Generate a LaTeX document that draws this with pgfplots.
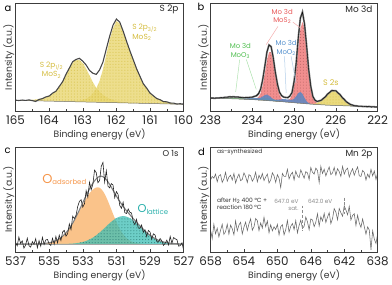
\documentclass[border=0pt]{standalone}
\usepackage{fontspec}
\setmainfont{Poppins}
\usepackage{pgfplots}
\usepackage{pgfplotstable}
\pgfplotsset{compat=1.18}
\usepgfplotslibrary{fillbetween}
\usetikzlibrary{patterns}

\definecolor{fa}{RGB}{232,214,112}
\definecolor{ta}{RGB}{212,188,62}
\definecolor{fr}{RGB}{240,130,130}
\definecolor{tr}{RGB}{232,88,88}
\definecolor{fb}{RGB}{90,135,195}
\definecolor{tb}{RGB}{85,145,205}
\definecolor{fg}{RGB}{120,200,110}
\definecolor{tg}{RGB}{80,190,80}
\definecolor{fo}{RGB}{250,188,125}
\definecolor{to}{RGB}{245,150,75}
\definecolor{ft}{RGB}{60,190,180}
\definecolor{tt}{RGB}{40,175,170}
\definecolor{frm}{RGB}{60,60,60}

\pgfplotsset{
  xps/.style={
    scale only axis, x dir=reverse, ytick=\empty, xtick pos=left,
    tick align=inside, major tick length=3bp, minor tick length=1.8bp,
    minor x tick num=1, axis on top,
    axis line style={draw=frm, line width=0.6bp},
    tick style={draw=frm, line width=0.5bp},
    tick label style={font=\fontsize{12}{12}\selectfont, text=black!85},
    xticklabel style={yshift=-1bp},
    /pgf/number format/assume math mode=true,
    /pgf/number format/1000 sep={},
    xlabel={Binding energy (eV)}, ylabel={Intensity (a.u.)},
    label style={font=\fontsize{9.3}{9.3}\selectfont, text=black!80},
    x label style={at={(axis description cs:0.5,-0.22)}, anchor=center},
    y label style={at={(axis description cs:-0.04,0.5)}, anchor=center},
  }
}

\pgfplotstableread{
E base B S env
160.0 6.70 6.70 6.70 6.9
160.1 6.78 7.03 6.78 7.3
160.2 6.86 7.26 6.86 7.0
160.3 6.94 7.60 6.94 7.9
160.4 7.02 8.10 7.02 8.0
160.5 7.10 8.76 7.10 9.2
160.6 7.18 9.67 7.18 9.4
160.7 7.26 11.0 7.26 11.3
160.8 7.34 12.7 7.34 12.5
160.9 7.42 14.9 7.42 15.3
161.0 7.50 18.3 7.50 18.0
161.1 7.58 22.5 7.58 23.0
161.2 7.66 27.6 7.66 27.4
161.3 7.74 34.3 7.74 34.9
161.4 7.82 42.7 7.82 42.5
161.5 7.90 51.1 7.90 51.6
161.6 7.98 60.3 8.28 60.6
161.7 8.06 69.5 8.56 70.2
161.8 8.14 79.5 8.99 80.3
161.9 8.22 87.9 9.52 89.3
162.0 8.30 90.3 10.2 92.4
162.1 8.38 83.1 11.1 86.3
162.2 8.46 71.6 12.3 75.2
162.3 8.54 56.6 14.0 62.4
162.4 8.62 41.8 16.3 49.2
162.5 8.70 30.3 19.3 41.3
162.6 8.78 22.5 23.3 36.8
162.7 8.86 17.6 28.9 37.9
162.8 8.94 14.3 35.7 40.8
162.9 9.02 12.3 42.6 46.2
163.0 9.10 11.2 48.2 50.1
163.1 9.18 10.5 51.3 52.9
163.2 9.26 10.1 51.4 51.8
163.3 9.34 9.84 48.4 49.6
163.4 9.42 9.7 43.0 43.1
163.5 9.50 9.6 36.3 36.8
163.6 9.58 9.58 29.6 29.4
163.7 9.66 9.66 24.2 24.6
163.8 9.74 9.74 20.3 19.8
163.9 9.82 9.82 17.5 17.9
164.0 9.90 9.90 15.4 15.0
164.1 9.98 9.98 13.8 14.1
164.2 10.06 10.06 12.8 12.4
164.3 10.14 10.14 12.0 11.6
164.4 10.22 10.22 11.5 9.6
164.5 10.30 10.30 11.15 10.4
164.6 10.38 10.38 10.9 11.2
164.7 10.46 10.46 10.76 10.6
164.8 10.54 10.54 10.54 11.0
164.9 10.62 10.62 10.62 10.5
165.0 10.70 10.70 10.70 10.9
}\tA

\pgfplotstableread{
E base red blue green yel env
222.0 4.0 4.0 4.0 4.0 4.0 4.1
222.2 4.1 4.1 4.1 4.1 4.1 4.0
222.4 4.2 4.2 4.2 4.2 4.2 4.3
222.6 4.2 4.2 4.2 4.2 4.2 4.1
222.8 4.3 4.3 4.3 4.3 4.3 4.5
223.0 4.4 4.4 4.4 4.4 4.4 4.3
223.2 4.5 4.5 4.5 4.5 4.5 4.6
223.4 4.6 4.6 4.6 4.6 4.6 4.5
223.6 4.6 4.6 4.6 4.6 4.6 4.8
223.8 4.7 4.7 4.7 4.7 4.8 4.7
224.0 4.8 4.8 4.8 4.8 5.0 5.1
224.2 4.9 4.9 4.9 4.9 5.3 5.2
224.4 4.9 4.9 4.9 4.9 5.8 5.9
224.6 5.0 5.0 5.0 5.0 6.6 6.5
224.8 5.1 5.1 5.1 5.1 7.7 7.9
225.0 5.2 5.2 5.2 5.2 9.4 9.3
225.2 5.2 5.2 5.2 5.2 11.4 11.6
225.4 5.3 5.3 5.3 5.3 13.8 13.6
225.6 5.4 5.4 5.4 5.4 16.3 16.5
225.8 5.4 5.4 5.4 5.4 18.4 18.2
226.0 5.5 5.5 5.5 5.5 20.0 20.3
226.2 5.6 5.6 5.6 5.6 20.6 20.4
226.4 5.7 5.7 5.7 5.7 20.2 20.5
226.6 5.8 5.8 5.8 5.8 18.8 18.6
226.8 5.9 5.9 5.9 5.9 16.8 17.0
227.0 6.0 6.0 6.0 6.0 14.5 14.3
227.2 6.1 6.35 6.1 6.1 12.3 12.6
227.4 6.2 6.7 6.2 6.2 10.4 10.8
227.6 6.4 7.3 6.4 6.4 9.0 10.1
227.8 6.5 8.2 6.5 6.5 8.05 9.6
228.0 6.6 10.0 6.6 6.6 7.4 10.9
228.2 6.8 14.2 6.8 6.8 7.2 14.5
228.4 6.9 24.1 7.1 6.9 7.1 24.6
228.6 7.1 40.7 7.9 7.1 7.2 41.4
228.8 7.2 62.5 9.75 7.2 7.2 65.3
229.0 7.4 81.7 13.2 7.4 7.4 87.3
229.2 7.6 89.6 17.15 7.6 7.6 99.4
229.4 7.8 82.1 19.2 7.8 7.8 93.3
229.6 7.9 63.2 17.9 7.9 7.9 73.5
229.8 8.1 41.7 14.8 8.1 8.1 48.2
230.0 8.3 25.5 12.3 8.3 8.3 29.8
230.2 8.5 16.0 11.2 8.5 8.5 18.5
230.4 8.7 12.3 11.3 8.7 8.7 15.1
230.6 8.8 10.9 11.5 8.8 8.8 13.4
230.8 9.0 10.65 11.8 9.0 9.0 13.6
231.0 9.2 11.2 11.9 9.4 9.2 14.0
231.2 9.4 12.65 11.8 9.7 9.4 15.5
231.4 9.5 16.5 11.4 10.1 9.5 18.9
231.6 9.7 24.7 11.3 10.6 9.7 27.4
231.8 9.8 36.8 11.2 11.1 9.8 39.3
232.0 10.0 50.0 12.0 11.7 10.0 53.9
232.2 10.2 59.0 13.6 12.3 10.2 64.7
232.4 10.3 59.1 15.4 12.7 10.3 66.4
232.6 10.5 50.5 16.5 13.0 10.5 59.2
232.8 10.6 37.6 16.0 13.0 10.6 45.2
233.0 10.8 25.8 14.6 12.9 10.8 31.9
233.2 10.9 17.9 13.4 12.6 10.9 22.0
233.4 11.0 14.0 12.9 12.3 11.0 17.4
233.6 11.2 12.7 13.0 12.15 11.2 15.3
233.8 11.3 12.05 13.1 12.0 11.3 14.7
234.0 11.4 11.8 13.1 11.9 11.4 13.9
234.2 11.5 11.7 13.0 11.95 11.5 13.8
234.4 11.6 11.7 12.8 12.1 11.6 13.4
234.6 11.7 11.7 12.6 12.4 11.7 13.5
234.8 11.8 11.8 12.45 12.7 11.8 13.3
235.0 11.9 11.9 12.3 13.1 11.9 13.6
235.2 12.0 12.0 12.2 13.5 12.0 13.7
235.4 12.1 12.1 12.2 13.9 12.1 14.1
235.6 12.1 12.1 12.2 14.0 12.1 14.0
235.8 12.2 12.2 12.2 14.2 12.2 14.3
236.0 12.3 12.3 12.3 14.2 12.3 14.1
236.2 12.4 12.4 12.4 14.2 12.4 14.3
236.4 12.4 12.4 12.4 13.9 12.4 13.8
236.6 12.5 12.5 12.5 13.7 12.5 13.8
236.8 12.5 12.5 12.5 13.4 12.5 13.3
237.0 12.6 12.6 12.6 13.25 12.6 13.4
237.2 12.7 12.7 12.7 13.1 12.7 13.0
237.4 12.7 12.7 12.7 13.0 12.7 13.1
237.6 12.8 12.8 12.8 12.96 12.8 12.8
237.8 12.8 12.8 12.8 12.9 12.8 13.0
238.0 12.9 12.9 12.9 12.95 12.9 12.9
}\tB

\pgfplotstableread{
E base O T env dat
527.0 8.3 8.3 8.4 8.4 2.0
527.1 8.3 8.3 8.4 8.4 9.5
527.2 8.3 8.3 8.45 8.45 6.8
527.3 8.3 8.3 8.5 8.5 6.1
527.4 8.3 8.3 8.57 8.57 12.7
527.5 8.3 8.3 8.66 8.66 13.5
527.6 8.3 8.3 8.77 8.77 14.8
527.7 8.3 8.3 8.92 8.92 9.0
527.8 8.3 8.3 9.1 9.1 15.9
527.9 8.3 8.3 9.33 9.33 7.4
528.0 8.3 8.3 9.6 9.6 12.3
528.1 8.3 8.3 9.95 9.95 9.0
528.2 8.3 8.3 10.36 10.36 6.9
528.3 8.3 8.3 10.84 10.84 11.5
528.4 8.3 8.3 11.41 11.41 13.8
528.5 8.3 8.3 12.08 12.08 10.2
528.6 8.3 8.3 12.86 12.86 10.9
528.7 8.3 8.3 13.76 13.76 17.3
528.8 8.3 8.3 14.74 14.74 18.5
528.9 8.3 8.3 15.86 15.86 13.1
529.0 8.3 8.3 17.06 17.06 20.4
529.1 8.3 8.3 18.38 18.38 21.9
529.2 8.3 8.3 19.8 19.8 15.8
529.3 8.3 8.43 21.3 21.43 22.5
529.4 8.3 8.49 22.86 23.05 20.1
529.5 8.3 8.59 24.48 24.77 27.4
529.6 8.3 8.73 26.08 26.51 24.0
529.7 8.3 8.93 27.7 28.33 24.4
529.8 8.3 9.21 29.24 30.15 33.0
529.9 8.3 9.6 30.73 32.03 27.8
530.0 8.3 10.12 32.07 33.89 30.6
530.1 8.3 10.8 33.3 35.8 39.4
530.2 8.3 11.7 34.34 37.74 40.2
530.3 8.3 12.84 35.18 39.72 43.5
530.4 8.3 14.26 35.8 41.76 38.9
530.5 8.3 16.01 36.17 43.88 39.8
530.6 8.3 18.13 36.3 46.13 50.3
530.7 8.3 20.63 36.17 48.5 44.2
530.8 8.3 23.52 35.8 51.02 47.0
530.9 8.3 26.8 35.18 53.68 58.2
531.0 8.3 30.45 34.34 56.49 61.0
531.1 8.3 34.4 33.3 59.4 54.8
531.2 8.3 38.57 32.07 62.34 67.5
531.3 8.3 42.87 30.73 65.3 69.0
531.4 8.3 47.17 29.24 68.11 64.8
531.5 8.3 51.32 27.7 70.72 66.4
531.6 8.3 55.19 26.08 72.97 82.0
531.7 8.3 58.6 24.48 74.78 70.5
531.8 8.3 61.42 22.86 75.98 90.3
531.9 8.3 63.53 21.3 76.53 86.4
532.0 8.3 64.84 19.8 76.34 72.1
532.1 8.3 65.3 18.38 75.38 69.9
532.2 8.3 65.04 17.06 73.8 80.1
532.3 8.3 64.27 15.86 71.83 82.6
532.4 8.3 63.02 14.74 69.46 68.3
532.5 8.3 61.3 13.76 66.76 62.8
532.6 8.3 59.2 12.86 63.76 70.4
532.7 8.3 56.7 12.08 60.48 55.3
532.8 8.3 53.96 11.41 57.07 61.9
532.9 8.3 50.94 10.84 53.48 48.6
533.0 8.3 47.8 10.36 49.86 45.3
533.1 8.3 44.5 9.95 46.15 52.8
533.2 8.3 41.25 9.6 42.55 51.2
533.3 8.3 37.94 9.33 38.97 46.0
533.4 8.3 34.8 9.1 35.6 37.2
533.5 8.3 31.73 8.92 32.35 33.9
533.6 8.3 28.82 8.77 29.29 36.2
533.7 8.3 26.14 8.66 26.5 22.8
533.8 8.3 23.69 8.57 23.96 28.5
533.9 8.3 21.41 8.5 21.61 18.7
534.0 8.3 19.42 8.45 19.57 16.2
534.1 8.3 17.59 8.41 17.7 22.0
534.2 8.3 16.0 8.38 16.08 20.3
534.3 8.3 14.63 8.36 14.69 11.8
534.4 8.3 13.48 8.34 13.52 17.2
534.5 8.3 12.48 8.3 12.5 9.5
534.6 8.3 11.65 8.3 11.65 15.9
534.7 8.3 10.96 8.3 10.96 8.1
534.8 8.3 10.39 8.3 10.39 14.0
534.9 8.3 9.93 8.3 9.93 6.9
535.0 8.3 9.56 8.3 9.56 8.4
535.1 8.3 9.26 8.3 9.26 12.9
535.2 8.3 9.03 8.3 9.03 12.4
535.3 8.3 8.85 8.3 8.85 7.8
535.4 8.3 8.71 8.3 8.71 15.0
535.5 8.3 8.6 8.3 8.6 6.1
535.6 8.3 8.52 8.3 8.52 11.7
535.7 8.3 8.46 8.3 8.46 4.5
535.8 8.3 8.41 8.3 8.41 13.6
535.9 8.3 8.38 8.3 8.38 8.0
536.0 8.3 8.3 8.3 8.3 10.7
536.1 8.3 8.3 8.3 8.3 5.2
536.2 8.3 8.3 8.3 8.3 6.6
536.3 8.3 8.3 8.3 8.3 14.2
536.4 8.3 8.3 8.3 8.3 7.3
536.5 8.3 8.3 8.3 8.3 4.1
536.6 8.3 8.3 8.3 8.3 11.5
536.7 8.3 8.3 8.3 8.3 8.9
536.8 8.3 8.3 8.3 8.3 15.3
536.9 8.3 8.3 8.3 8.3 6.4
537.0 8.3 8.3 8.3 8.3 10.1
}\tC

\pgfplotstableread{
E up low
638.0 79.8 18.8
638.2 73.2 8.8
638.4 81.6 13.2
638.6 76.8 21.6
638.8 83.4 2.5
639.0 75.0 22.4
639.2 78.6 25.5
639.4 72.6 18.2
639.6 80.4 25.8
639.8 82.2 33.4
640.0 76.2 25.0
640.2 76.8 29.4
640.4 85.8 37.3
640.6 82.2 26.8
640.8 77.4 38.7
641.0 84.0 37.0
641.2 80.4 32.4
641.4 75.6 46.2
641.6 84.6 37.6
641.8 82.8 42.6
642.0 78.6 46.6
642.2 86.4 36.2
642.4 76.2 39.7
642.6 81.0 44.0
642.8 84.0 32.6
643.0 77.4 40.4
643.2 85.2 43.9
643.4 79.8 33.8
643.6 78.0 28.8
643.8 85.8 39.8
644.0 81.6 35.3
644.2 76.8 30.0
644.4 83.4 39.1
644.6 79.2 31.4
644.8 86.4 35.7
645.0 70.0 26.4
645.2 82.2 38.7
645.4 84.6 30.2
645.6 78.6 25.7
645.8 80.4 32.4
646.0 85.2 33.5
646.2 73.2 22.6
646.4 79.8 30.6
646.6 81.0 35.4
646.8 74.4 26.1
647.0 78.6 24.0
647.2 82.8 32.3
647.4 75.0 27.0
647.6 76.8 19.5
647.8 81.6 31.9
648.0 72.6 22.8
648.2 80.4 28.9
648.4 78.0 26.1
648.6 73.8 20.2
648.8 83.4 31.9
649.0 76.2 22.7
649.2 76.2 17.6
649.4 79.2 27.7
649.6 65.0 25.7
649.8 74.4 17.4
650.0 78.0 28.1
650.2 70.2 22.9
650.4 76.8 25.6
650.6 79.8 21.5
650.8 72.6 27.7
651.0 69.6 19.6
651.2 78.6 31.5
651.4 75.6 25.7
651.6 72.0 35.2
651.8 79.2 24.3
652.0 73.8 29.5
652.2 77.4 21.8
652.4 70.8 31.9
652.6 80.4 33.9
652.8 74.4 25.6
653.0 71.4 22.1
653.2 76.8 33.7
653.4 78.0 28.6
653.6 70.2 21.9
653.8 76.2 30.3
654.0 79.8 25.2
654.2 73.2 18.5
654.4 72.0 30.1
654.6 78.6 27.4
654.8 75.0 21.5
655.0 69.6 31.5
655.2 79.2 17.6
655.4 72.6 23.7
655.6 77.4 27.3
655.8 75.6 18.2
656.0 71.4 28.3
656.2 80.4 20.7
656.4 73.8 18.0
656.6 70.2 28.1
656.8 78.0 22.1
657.0 76.8 15.4
657.2 70.8 24.2
657.4 78.6 18.6
657.6 74.4 28.2
657.8 76.2 13.8
658.0 72.6 22.6
}\tD

\begin{document}
\begin{tikzpicture}
\path (0,0) rectangle (392bp,-284bp);

% ---------------- a ----------------
\begin{axis}[xps, at={(14bp,-2bp)}, anchor=north west, width=169bp, height=108bp,
  xmin=160, xmax=165, ymin=0, ymax=108, xtick={160,161,...,165}]
\addplot[name path=aBase, draw=none, forget plot] table[x=E,y=base]{\tA};
\addplot[name path=aB, draw=none, forget plot] table[x=E,y=B]{\tA};
\addplot[name path=aS, draw=none, forget plot] table[x=E,y=S]{\tA};
\addplot[fill=fa, fill opacity=0.8, draw=none] fill between[of=aB and aBase];
\addplot[fill=fa, fill opacity=0.8, draw=none] fill between[of=aS and aBase];
\addplot[pattern=dots, pattern color=ta, draw=none] fill between[of=aB and aBase];
\addplot[pattern=dots, pattern color=ta, draw=none] fill between[of=aS and aBase];
\addplot[black!55, line width=0.5bp] table[x=E,y=base]{\tA};
\addplot[black!72, line width=1.1bp] table[x=E,y=env]{\tA};
\node[anchor=east, font=\fontsize{9}{9}\selectfont, text=black!85] at (axis description cs:0.99,0.945) {S 2p};
\node[anchor=north west, align=left, text=ta, font=\fontsize{7.5}{8.5}\selectfont] at (axis cs:161.63,91) {S 2p\textsubscript{3/2}\\MoS\textsubscript{2}};
\node[anchor=north, align=center, text=ta, font=\fontsize{7.5}{8.5}\selectfont] at (axis cs:163.93,53) {S 2p\textsubscript{1/2}\\MoS\textsubscript{2}};
\end{axis}

% ---------------- b ----------------
\begin{axis}[xps, at={(210bp,-2bp)}, anchor=north west, width=168bp, height=108bp,
  xmin=222, xmax=238, ymin=0, ymax=108, xtick={222,226,...,238}]
\addplot[name path=bBase, draw=none, forget plot] table[x=E,y=base]{\tB};
\addplot[name path=bR, draw=none, forget plot] table[x=E,y=red]{\tB};
\addplot[name path=bBl, draw=none, forget plot] table[x=E,y=blue]{\tB};
\addplot[name path=bG, draw=none, forget plot] table[x=E,y=green]{\tB};
\addplot[name path=bY, draw=none, forget plot] table[x=E,y=yel]{\tB};
\addplot[fill=fr, fill opacity=0.9, draw=none] fill between[of=bR and bBase];
\addplot[pattern=dots, pattern color=fr!75!black, draw=none] fill between[of=bR and bBase];
\addplot[fill=fa, fill opacity=0.9, draw=none] fill between[of=bY and bBase];
\addplot[pattern=dots, pattern color=ta, draw=none] fill between[of=bY and bBase];
\addplot[fill=fg, fill opacity=0.8, draw=none] fill between[of=bG and bBase];
\addplot[fill=fb, fill opacity=0.85, draw=none] fill between[of=bBl and bBase];
\addplot[black!55, line width=0.5bp] table[x=E,y=base]{\tB};
\addplot[black!55, line width=1.8bp] table[x=E,y=env]{\tB};
\addplot[black, line width=0.4bp] table[x=E,y=env]{\tB};
\draw[tr!50, line width=0.5bp] (axis cs:231.55,85) -- (axis cs:232.67,66.7);
\draw[tr!50, line width=0.5bp] (axis cs:230.12,89.3) -- (axis cs:229.17,81.7);
\draw[tb!45, line width=0.5bp] (axis cs:230.92,55) -- (axis cs:230.76,18.3);
\draw[tb!45, line width=0.5bp] (axis cs:230.29,55) -- (axis cs:229.81,28.3);
\draw[tg!45, line width=0.5bp] (axis cs:235.21,51.7) -- (axis cs:235.59,19.3);
\draw[tg!45, line width=0.5bp] (axis cs:234.57,51.7) -- (axis cs:233.62,21.7);
\node[anchor=east, font=\fontsize{9}{9}\selectfont, text=black!85] at (axis description cs:0.99,0.945) {Mo 3d};
\node[anchor=north, align=center, text=tr, font=\fontsize{7}{8.2}\selectfont] at (axis cs:231.14,106) {Mo 3d\\MoS\textsubscript{2}};
\node[anchor=north, align=center, text=tb, font=\fontsize{7}{8.2}\selectfont] at (axis cs:230.76,74) {Mo 3d\\MoO\textsubscript{2}};
\node[anchor=north, align=center, text=tg, font=\fontsize{7}{8.2}\selectfont] at (axis cs:235.14,71) {Mo 3d\\MoO\textsubscript{3}};
\node[anchor=center, text=ta, font=\fontsize{8}{8}\selectfont] at (axis cs:226.48,29) {S 2s};
\end{axis}

% ---------------- c ----------------
\begin{axis}[xps, at={(14bp,-146bp)}, anchor=north west, width=169bp, height=106bp,
  xmin=527, xmax=537, ymin=0, ymax=106, xtick={527,529,...,537}]
\addplot[name path=cBase, draw=none, forget plot] table[x=E,y=base]{\tC};
\addplot[name path=cO, draw=none, forget plot] table[x=E,y=O]{\tC};
\addplot[name path=cT, draw=none, forget plot] table[x=E,y=T]{\tC};
\addplot[fill=fo, fill opacity=0.9, draw=none] fill between[of=cO and cBase];
\addplot[fill=ft, fill opacity=0.75, draw=none] fill between[of=cT and cBase];
\addplot[pattern=dots, pattern color=ft!60!black, draw=none] fill between[of=cT and cBase];
\addplot[black!50, line width=0.5bp] table[x=E,y=base]{\tC};
\addplot[black!50, line width=1.1bp] table[x=E,y=env]{\tC};
\addplot[black!85, line width=0.6bp] table[x=E,y=dat]{\tC};
\node[anchor=east, font=\fontsize{8.5}{8.5}\selectfont, text=black!85] at (axis description cs:0.99,0.94) {O 1s};
\node[anchor=center, text=to] at (axis description cs:0.29,0.689) {\fontsize{13}{13}\selectfont O\raisebox{-1.5bp}{\fontsize{7}{7}\selectfont adsorbed}};
\node[anchor=center, text=tt] at (axis description cs:0.817,0.406) {\fontsize{11.5}{11.5}\selectfont O\raisebox{-1.5bp}{\fontsize{7}{7}\selectfont lattice}};
\end{axis}

% ---------------- d ----------------
\begin{axis}[xps, at={(210bp,-146bp)}, anchor=north west, width=168bp, height=106bp,
  xmin=638, xmax=658, ymin=0, ymax=106, xtick={638,642,...,658}]
\addplot[black!60, line width=0.55bp] table[x=E,y=up]{\tD};
\addplot[black!60, line width=0.55bp] table[x=E,y=low]{\tD};
\draw[black!45, densely dashed, line width=0.6bp] (axis cs:647,47) -- (axis cs:647,22);
\draw[black!45, densely dashed, line width=0.6bp] (axis cs:642,55) -- (axis cs:642,38);
\node[anchor=east, font=\fontsize{9}{9}\selectfont, text=black!85] at (axis description cs:0.99,0.93) {Mn 2p};
\node[anchor=west, font=\fontsize{6}{6}\selectfont, text=black!80] at (axis description cs:0.018,0.953) {as-synthesized};
\node[anchor=north west, align=left, font=\fontsize{6}{7}\selectfont, text=black!80] at (axis description cs:0.018,0.55) {after H\textsubscript{2} 400 °C +\\reaction 180 °C};
\node[anchor=north east, align=right, font=\fontsize{5.8}{7}\selectfont, text=black!45] at (axis cs:647.05,57) {647.0 eV\\sat.};
\node[anchor=north east, align=right, font=\fontsize{5.8}{7}\selectfont, text=black!45] at (axis cs:643.0,57) {642.0 eV};
\end{axis}

% panel letters
\node[font=\fontsize{10}{10}\selectfont] at (6.5bp,-7bp) {a};
\node[font=\fontsize{10}{10}\selectfont] at (200.5bp,-5.5bp) {b};
\node[font=\fontsize{10}{10}\selectfont] at (6bp,-150bp) {c};
\node[font=\fontsize{10}{10}\selectfont] at (201bp,-151bp) {d};
\end{tikzpicture}
\end{document}
